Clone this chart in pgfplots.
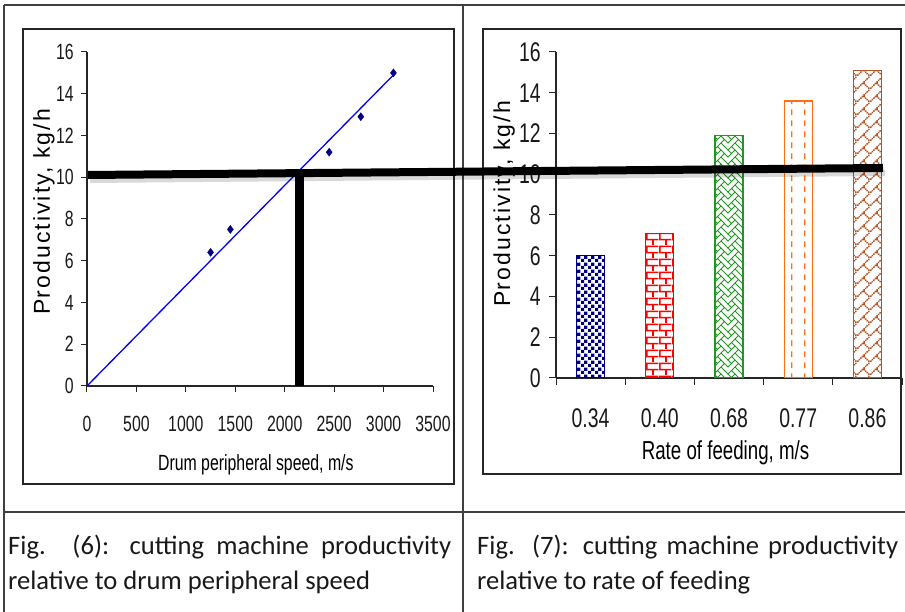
\documentclass[border=0pt]{standalone}
\usepackage{fontspec}
\usepackage{pgfplots}
\pgfplotsset{compat=1.18}
\usetikzlibrary{patterns}

\newfontfamily\tickfont{Liberation Sans}[FakeStretch=0.72]
\newfontfamily\labfont{Liberation Sans}[LetterSpace=9]
\newfontfamily\capfont{Carlito}

\definecolor{navy}{RGB}{0,0,128}
\definecolor{xlred}{RGB}{255,0,0}
\definecolor{xlgreen}{RGB}{34,150,34}
\definecolor{xlorange}{RGB}{255,110,20}
\definecolor{xlbrown}{RGB}{180,85,40}
\definecolor{frame}{RGB}{64,64,64}

% one "excel pixel" of a pattern, column/row counted from the top left
\newcommand\px[2]{\pgfpathrectangle{\pgfpoint{#1*1.65pt}{(7-#2)*1.65pt}}{\pgfqpoint{1.66pt}{1.66pt}}}
% weave grid point, column/row counted from the top left, step 1.75pt
\newcommand\wv[2]{\pgfpoint{#1*1.75pt}{(8-#2)*1.75pt}}

\pgfdeclarepatternformonly{xlcheck}{\pgfpointorigin}{\pgfqpoint{6.6pt}{6.6pt}}{\pgfqpoint{6.6pt}{6.6pt}}{%
  \pgfpathrectangle{\pgfpointorigin}{\pgfqpoint{3.3pt}{3.3pt}}%
  \pgfpathrectangle{\pgfqpoint{3.3pt}{3.3pt}}{\pgfqpoint{3.3pt}{3.3pt}}%
  \pgfusepath{fill}}

\pgfdeclarepatternformonly{xlbrick}{\pgfpointorigin}{\pgfqpoint{13.2pt}{13.2pt}}{\pgfqpoint{13.2pt}{13.2pt}}{%
  \pgfpathrectangle{\pgfpoint{0pt}{11.55pt}}{\pgfqpoint{13.2pt}{1.65pt}}%
  \pgfpathrectangle{\pgfpoint{0pt}{4.95pt}}{\pgfqpoint{13.2pt}{1.65pt}}%
  \px{0}{1}\px{0}{2}\px{0}{3}%
  \px{4}{5}\px{4}{6}\px{4}{7}%
  \pgfusepath{fill}}

\pgfdeclarepatternformonly{xlweave}{\pgfqpoint{-1pt}{-1pt}}{\pgfqpoint{15pt}{15pt}}{\pgfqpoint{14pt}{14pt}}{%
  \pgfsetlinewidth{0.9pt}\pgfsetroundcap\pgfsetroundjoin
  \pgfpathmoveto{\wv{0}{0}}\pgfpathlineto{\wv{1}{1}}\pgfpathlineto{\wv{2}{2}}%
    \pgfpathlineto{\wv{1}{3}}\pgfpathlineto{\wv{0}{4}}%
  \pgfpathmoveto{\wv{4}{0}}\pgfpathlineto{\wv{2}{2}}%
  \pgfpathmoveto{\wv{4}{0}}\pgfpathlineto{\wv{6}{2}}\pgfpathlineto{\wv{4}{4}}%
    \pgfpathlineto{\wv{0}{8}}%
  \pgfpathmoveto{\wv{6}{2}}\pgfpathlineto{\wv{8}{4}}%
  \pgfpathmoveto{\wv{4}{4}}\pgfpathlineto{\wv{8}{8}}%
  \pgfpathmoveto{\wv{2}{6}}\pgfpathlineto{\wv{4}{8}}%
  \pgfusepath{stroke}}

\pgfdeclarepatternformonly{xldiagbrick}{\pgfpointorigin}{\pgfqpoint{13.2pt}{13.2pt}}{\pgfqpoint{13.2pt}{13.2pt}}{%
  \px{7}{0}\px{6}{1}\px{5}{2}\px{4}{3}%
  \px{3}{4}\px{4}{4}\px{2}{5}\px{5}{5}%
  \px{1}{6}\px{6}{6}\px{0}{7}\px{7}{7}%
  \pgfusepath{fill}}

\pgfdeclarepatternformonly{xldashv}{\pgfpointorigin}{\pgfqpoint{13.2pt}{11pt}}{\pgfqpoint{13.2pt}{11pt}}{%
  \pgfpathrectangle{\pgfpoint{0.1pt}{2pt}}{\pgfqpoint{1.4pt}{6.2pt}}%
  \pgfusepath{fill}}

\pgfplotsset{
  excel/.style={
    scale only axis, anchor=south west,
    axis lines*=left,
    axis line style={line width=1.1pt, black!85},
    tick align=outside,
    tick style={line width=1pt, black!85},
    major tick length=6pt,
    ymin=0, ymax=16, ytick={0,2,...,16},
    scaled ticks=false,
    /pgf/number format/1000 sep={},
    /pgf/number format/assume math mode=true,
    ticklabel style={inner sep=0pt, text=black!90},
    xticklabel style={anchor=north},
    yticklabel style={anchor=east},
  },
}

\begin{document}
\begin{tikzpicture}[x=1pt,y=1pt]
\path[use as bounding box] (0,0) rectangle (905,612);

% table lines
\draw[line width=1.5pt, frame] (4,607) -- (905,607);
\draw[line width=1.5pt, frame] (4,607) -- (4,0);
\draw[line width=1.5pt, frame] (463,607) -- (463,0);
\draw[line width=2.5pt, frame] (4,100) -- (905,100);
\draw[line width=1.5pt, black!85] (23,128) rectangle (454,583);
\draw[line width=1.5pt, black!85] (483,138) rectangle (901,583);

% Fig. 6
\begin{axis}[excel,
  at={(87pt,226pt)}, width=346pt, height=334pt,
  xmin=0, xmax=3500, xtick={0,500,...,3500},
  ticklabel style={font=\tickfont\fontsize{22}{26}\selectfont},
  xticklabel style={yshift=-24pt},
  yticklabel style={xshift=-7pt},
  xlabel={Drum peripheral speed, m/s},
  xlabel style={at={(axis description cs:0.488,-0.2545)}, anchor=base,
    font=\tickfont\fontsize{22}{26}\selectfont},
  ylabel={P\kern1.5pt roductivity, kg/h},
  ylabel style={at={(axis description cs:-0.107,0.521)}, anchor=base,
    font=\labfont\fontsize{23}{26}\selectfont},
]
\addplot[blue, line width=1.3pt, no marks] coordinates {(0,0) (3100,14.9)};
\addplot[only marks, mark=diamond*, mark size=4pt, color=navy] coordinates {
  (1250,6.4) (1450,7.5) (2450,11.2) (2770,12.9) (3100,15.0)};
\draw[line width=9pt, black] (axis cs:2150,10.1) -- (axis cs:2150,-0.1);
\end{axis}

% Fig. 7
\begin{axis}[excel,
  at={(556pt,234pt)}, width=346pt, height=326pt,
  xmin=-0.5, xmax=4.5,
  xtick={-0.5,0.5,...,4.5}, xticklabels={},
  major tick length=7pt,
  extra x ticks={0,1,2,3,4},
  extra x tick labels={0.34,0.40,0.68,0.77,0.86},
  extra x tick style={major tick length=0pt},
  ticklabel style={font=\tickfont\fontsize{27}{30}\selectfont},
  xticklabel style={yshift=-30pt},
  yticklabel style={xshift=-8pt},
  xlabel={Rate of feeding, m/s},
  xlabel style={at={(axis description cs:0.49,-0.2515)}, anchor=base,
    font=\tickfont\fontsize{26}{30}\selectfont},
  ylabel={P\kern1.5pt roductivity, kg/h},
  ylabel style={at={(axis description cs:-0.1326,0.534)}, anchor=base,
    font=\labfont\fontsize{23}{26}\selectfont},
]
\addplot[ybar, bar shift=0pt, bar width=28pt, draw=navy, line width=1.3pt,
  pattern=xlcheck, pattern color=navy] coordinates {(0,6.0)};
\addplot[ybar, bar shift=0pt, bar width=28pt, draw=xlred, line width=1.3pt,
  pattern=xlbrick, pattern color=xlred] coordinates {(1,7.1)};
\addplot[ybar, bar shift=0pt, bar width=28pt, draw=xlgreen, line width=1.3pt,
  pattern=xlweave, pattern color=xlgreen] coordinates {(2,11.9)};
\addplot[ybar, bar shift=0pt, bar width=28pt, draw=xlorange, line width=1.3pt,
  pattern=xldashv, pattern color=xlorange] coordinates {(3,13.6)};
\addplot[ybar, bar shift=0pt, bar width=28pt, draw=xlbrown, line width=1.3pt,
  pattern=xldiagbrick, pattern color=xlbrown] coordinates {(4,15.1)};
\end{axis}

% hand-drawn reading line across both figures
\draw[line width=6pt, black, opacity=0.15] (90,432) -- (885,439);
\draw[line width=8pt, black] (88,437) -- (883,444);

% captions
\begin{scope}[every node/.style={anchor=base west, inner sep=0pt,
    font=\capfont\fontsize{26.6}{35}\selectfont, text=black!90}]
\node at (8,57) {\makebox[443pt][s]{Fig. (6): cutting machine productivity}};
\node at (8,22) {relative to drum peripheral speed};
\node at (477,57) {\makebox[421pt][s]{Fig. (7): cutting machine productivity}};
\node at (477,22) {relative to rate of feeding};
\end{scope}
\end{tikzpicture}
\end{document}
